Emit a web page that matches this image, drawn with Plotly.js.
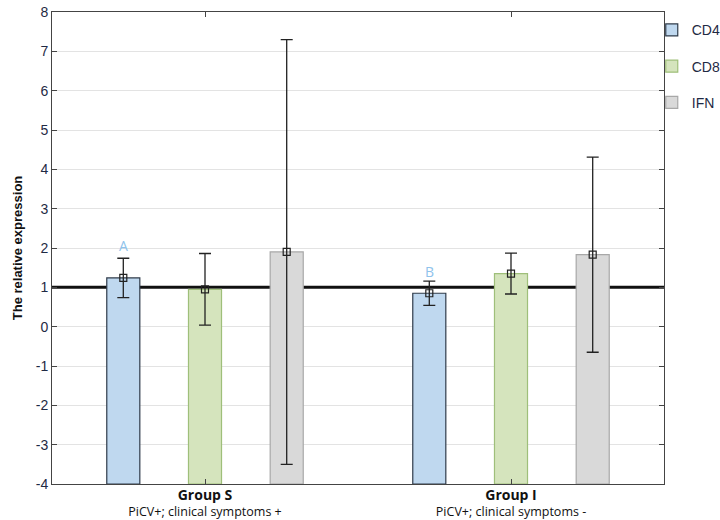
<!DOCTYPE html>
<html>
<head>
<meta charset="utf-8">
<script src="https://cdn.plot.ly/plotly-3.0.1.min.js"></script>
<style>html,body{margin:0;padding:0;background:#fff;}#chart{width:720px;height:520px;}</style>
</head>
<body>
<div id="chart"></div>
<script>
// ---- data ----
var groupNames = ["Group S", "Group I"];
var groupSubtitles = ["PiCV+; clinical symptoms +", "PiCV+; clinical symptoms -"];
var seriesNames = ["CD4", "CD8", "IFN"];
var meansCD4 = [1.24, 0.85];
var errCD4 = [0.50, 0.31];
var meansCD8 = [0.95, 1.35];
var errCD8 = [0.91, 0.52];
var meansIFN = [1.90, 1.83];
var errIFN = [5.40, 2.48];
var letterLabels = ["A", "B"];      // shown above CD4 bars
var letterY = [2.06, 1.40];
var referenceLevel = 1;
var yTicks = [-4, -3, -2, -1, 0, 1, 2, 3, 4, 5, 6, 7, 8];
var yTickText = ["-4", "-3", "-2", "-1", "0", "1", "2", "3", "4", "5", "6", "7", "8"];

// ---- styles ----
var fills = ["#bfd8ef", "#d5e4bd", "#d9d9d9"];
var borders = ["#2f3b4a", "#9fbf7a", "#a8a8a8"];
var yMin = -4, yMax = 8;
var slot = 0.267, barW = 0.108;

var means = [meansCD4, meansCD8, meansIFN];
var errs = [errCD4, errCD8, errIFN];
var gIdx = groupNames.map(function (_, i) { return i; });

var traces = [];
seriesNames.forEach(function (name, s) {
  var xs = gIdx.map(function (g) { return g + (s - 1) * slot; });
  traces.push({
    type: "bar", name: name, x: xs,
    y: means[s].map(function (m) { return m - yMin; }),
    base: yMin, width: barW,
    marker: { color: fills[s], line: { color: borders[s], width: 1.2 } },
    legendgroup: name, showlegend: true, hoverinfo: "skip"
  });
  traces.push({
    type: "scatter", mode: "markers", x: xs, y: means[s],
    marker: { symbol: "square-open", size: 7, color: "#222", line: { width: 1.2, color: "#222" } },
    error_y: { type: "data", array: errs[s], visible: true, color: "#222", thickness: 1.3, width: 6 },
    legendgroup: name, showlegend: false, hoverinfo: "skip"
  });
});
// invisible trace to anchor the grid-only overlay axis
traces.push({ type: "scatter", mode: "none", x: [gIdx[0]], y: [referenceLevel], yaxis: "y2",
  showlegend: false, hoverinfo: "skip" });

var gridVals = yTicks.filter(function (v) { return v !== referenceLevel; });

var tickText = groupNames.map(function (g, i) {
  return "<span style=\"font-size:14px\"><b>" + g + "</b></span><br><span style=\"font-size:12.5px\">" + groupSubtitles[i] + "</span>";
});

var annotations = letterLabels.map(function (t, i) {
  return { x: gIdx[i] - slot, y: letterY[i], xref: "x", yref: "y", text: t, showarrow: false,
    font: { family: "Open Sans, sans-serif", size: 14, color: "#8fc3ec" }, yanchor: "middle" };
});

var layout = {
  width: 720, height: 520,
  margin: { l: 52, r: 56, t: 12, b: 36, autoexpand: false },
  paper_bgcolor: "#fff", plot_bgcolor: "#fff",
  showlegend: true,
  legend: { x: 0.98, xanchor: "left", y: 0.995, yanchor: "top", bgcolor: "rgba(0,0,0,0)",
    font: { family: "Liberation Sans, Arial, sans-serif", size: 14, color: "#1f2a44" },
    tracegroupgap: 15, itemwidth: 30 },
  xaxis: {
    range: [-0.5, 1.5], tickvals: gIdx, ticktext: tickText,
    ticks: "inside", ticklen: 5, tickcolor: "#444", showgrid: false, zeroline: false,
    showline: true, linecolor: "#444", linewidth: 1, mirror: "ticks",
    tickfont: { family: "Open Sans, sans-serif", size: 12.5, color: "#111" }
  },
  yaxis: {
    range: [yMin, yMax], tickvals: yTicks, ticktext: yTickText, ticks: "inside", ticklen: 5, tickcolor: "#444",
    showgrid: false, zeroline: false,
    showline: true, linecolor: "#444", linewidth: 1, mirror: "ticks",
    tickfont: { family: "Liberation Sans, Arial, sans-serif", size: 14, color: "#1f2a44" },
    title: { text: "<b>The relative expression</b>", standoff: 10,
      font: { family: "Liberation Sans, Arial, sans-serif", size: 13, color: "#111" } }
  },
  yaxis2: {
    overlaying: "y", range: [yMin, yMax], tickvals: gridVals, showticklabels: false, ticks: "",
    showgrid: true, gridcolor: "#e3e3e3", gridwidth: 1, zeroline: false, showline: false
  },
  shapes: [{ type: "line", xref: "paper", x0: 0, x1: 1, yref: "y", y0: referenceLevel, y1: referenceLevel,
    line: { color: "#111", width: 3 }, layer: "between" }],
  annotations: annotations
};

Plotly.newPlot("chart", traces, layout, { displayModeBar: false, staticPlot: true });
</script>
</body>
</html>
